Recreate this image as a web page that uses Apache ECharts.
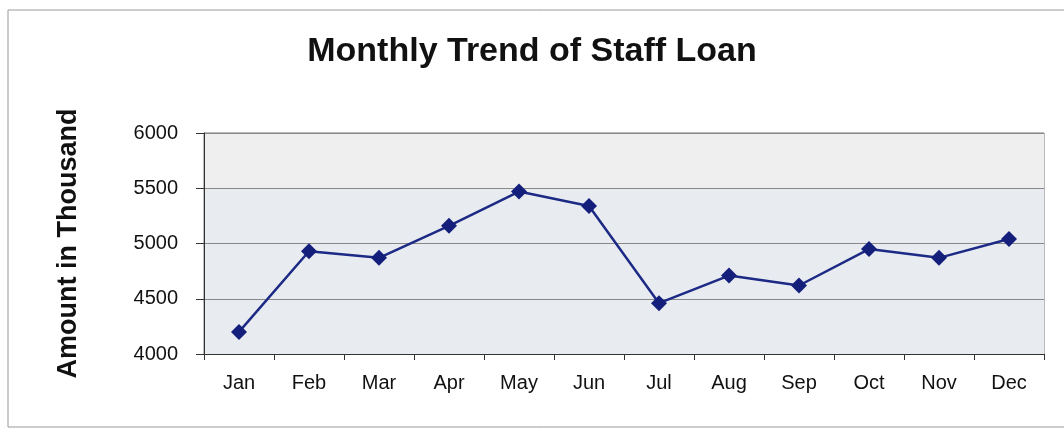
<!DOCTYPE html>
<html>

<head>
    <title>Monthly Trend of Staff Loan</title>
    <meta charset="utf-8">
    <script src="https://cdn.jsdelivr.net/npm/echarts@6/dist/echarts.min.js"></script>
    <style>
        body { margin: 0; background: #fff; }
    </style>
</head>

<body>
    <div id="loanChart" style="width: 1064px;height:429px;"></div>
    <script>
        var months = ['Jan', 'Feb', 'Mar', 'Apr', 'May', 'Jun', 'Jul', 'Aug', 'Sep', 'Oct', 'Nov', 'Dec'];
        var loanAmount = [4200, 4930, 4870, 5160, 5470, 5340, 4460, 4710, 4620, 4950, 4870, 5040];
        var chartTitle = 'Monthly Trend of Staff Loan';
        var yTitle = 'Amount in Thousand';

        var chartDom = document.getElementById('loanChart');
        var myChart = echarts.init(chartDom);
        var font = '"Liberation Sans", Arial, sans-serif';
        var option = {
            backgroundColor: '#fff',
            title: {
                text: chartTitle,
                left: 'center',
                top: 30,
                textStyle: {
                    fontFamily: font,
                    fontSize: 34,
                    fontWeight: 'bold',
                    color: '#111'
                }
            },
            graphic: [{
                type: 'rect',
                shape: { x: 8, y: 10, width: 1070, height: 417 },
                style: { fill: 'none', stroke: '#999', lineWidth: 1 },
                silent: true
            }],
            grid: {
                left: 204,
                top: 133,
                width: 840,
                height: 221,
                show: true,
                borderColor: '#777',
                borderWidth: 1,
                backgroundColor: '#e8ebf0'
            },
            xAxis: {
                type: 'category',
                data: months,
                boundaryGap: true,
                axisLine: { lineStyle: { color: '#333', width: 1 } },
                axisTick: { show: true, length: 6, lineStyle: { color: '#333' } },
                axisLabel: {
                    margin: 19,
                    fontFamily: font,
                    fontSize: 20,
                    color: '#111'
                }
            },
            yAxis: {
                type: 'value',
                min: 4000,
                max: 6000,
                interval: 500,
                name: yTitle,
                nameLocation: 'middle',
                nameRotate: 90,
                nameGap: 122,
                nameTextStyle: {
                    fontFamily: font,
                    fontSize: 27,
                    fontWeight: 'bold',
                    color: '#111'
                },
                axisLine: { show: true, lineStyle: { color: '#333', width: 1 } },
                axisTick: { show: true, length: 8, lineStyle: { color: '#333' } },
                axisLabel: {
                    margin: 26,
                    fontFamily: font,
                    fontSize: 20,
                    color: '#111',
                    formatter: function (v) { return String(v); }
                },
                splitLine: { lineStyle: { color: '#888', width: 1 } },
                splitArea: {
                    show: true,
                    areaStyle: { color: ['#e8ebf0', '#e8ebf0', '#e8ebf0', '#efefef'] }
                }
            },
            series: [{
                name: 'Staff Loan',
                type: 'line',
                data: loanAmount,
                symbol: 'diamond',
                symbolSize: 16,
                lineStyle: { color: '#1c2a86', width: 2.5 },
                itemStyle: { color: '#131f7a' }
            }]
        };
        myChart.setOption(option);
    </script>
</body>

</html>
